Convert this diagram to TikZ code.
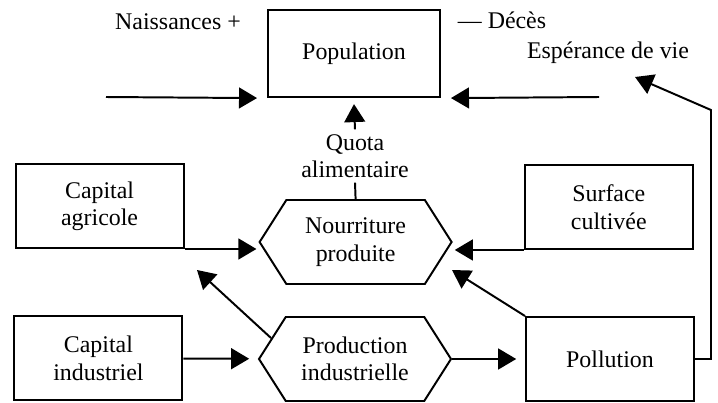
\documentclass[tikz,border=0pt]{standalone}
\usepackage{fontspec}
\setmainfont{Liberation Serif}
\usetikzlibrary{arrows.meta, shapes.symbols}

\begin{document}
\begin{tikzpicture}[font=\fontsize{17}{19.5}\selectfont,
	boite/.style={shape=rectangle, draw=black, line width=1.4pt, align=center, minimum width=4.2cm, minimum height=2.1cm},
	hexa/.style={shape=signal, signal to=west and east, signal pointer angle=115, draw=black, line width=1.4pt, align=center, minimum width=4.8cm, minimum height=2.1cm, inner sep=1pt},
	fleche/.style={-{Triangle[length=4.5mm, width=5.2mm]}, line width=1.4pt, black}]
				\useasboundingbox (0,0) rectangle (17.95,-10.075);
				\node[boite, minimum width=4.3cm, minimum height=2.175cm] (P) at (8.85,-1.34) {Population};
				\node (N) at (4.45,-0.55) {Naissances +};
				\node (D) at (12.55,-0.5) {--- Décès};
				\node (E) at (15.2,-1.33) {Espérance de vie};
				\node[align=center] (Q) at (8.875,-3.9) {Quota\\alimentaire};
				\node[boite] (CA) at (2.49,-5.15) {Capital\\agricole};
				\node[boite] (SC) at (15.22,-5.175) {Surface\\cultivée};
				\node[hexa] (NP) at (8.89,-6.05) {Nourriture\\produite};
				\node[boite] (CI) at (2.46,-8.96) {Capital\\industriel};
				\node[hexa] (PI) at (8.875,-8.975) {Production\\industrielle};
				\node[boite] (PO) at (15.25,-8.975) {Pollution};
				
				\coordinate (g) at (2.65,-2.425);
				\coordinate (d) at (14.975,-2.425);
				\coordinate (v) at (15.875,-1.925);
				\coordinate (k) at (17.775,-2.75);
				\coordinate (a1) at (4.925,-6.75);
				\coordinate (a2) at (11.3,-6.75);
				
				\path [fleche] (g) edge ([xshift=-2.5mm]P.south west);
				\path [fleche] (d) edge ([xshift=2.5mm]P.south east);
				\path [fleche] (Q.north) edge ([yshift=-1.5mm]P.south);
				\path [-, line width=1.4pt, black] (Q.south) edge (NP.north);
				\path [fleche, shorten >=0.5mm] (CA.south east) edge (CA.south east -| NP.west);
				\path [fleche, shorten >=0.5mm] (SC.south west) edge (SC.south west -| NP.east);
				\path [fleche, shorten >=2.2mm] (CI) edge (PI);
				\path [fleche, shorten >=2.2mm] (PI) edge (PO);
				\path [fleche] (PI.166) edge (a1);
				\path [fleche] (PO.north west) edge (a2);
				\draw [fleche] (PO.east) -| (k) -- (v);
				\end{tikzpicture}
\end{document}
